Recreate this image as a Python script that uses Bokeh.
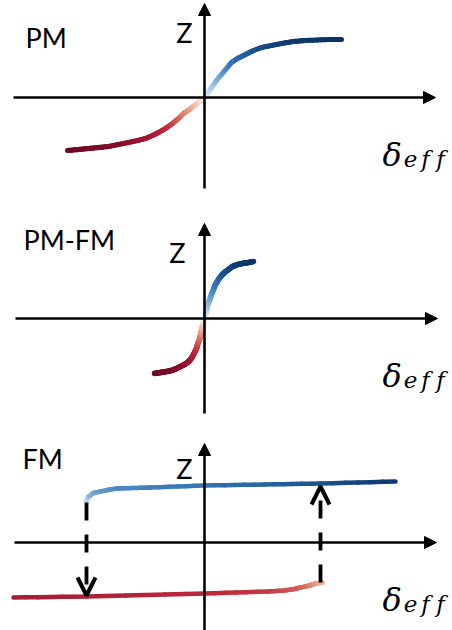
from bokeh.plotting import figure
from bokeh.models import Range1d, Arrow, NormalHead, OpenHead
from bokeh.layouts import column
from bokeh.core.properties import value
from bokeh.embed import file_html
from bokeh.resources import INLINE

# ---------------- data (arbitrary units, origin = axis crossing) ----------------
# PM: smooth, continuous response
pm_delta = [-137, -126, -116, -106, -96, -86, -76, -67, -59, -52, -46, -39, -32, -26, -21, -15, -10, -5, 0,
            3, 7, 12, 17, 22, 27, 33, 41, 49, 57, 67, 77, 89, 101, 124, 137]
pm_z = [-53, -52, -51, -50, -49, -47, -45, -43, -41, -38, -35, -31, -26, -21, -16, -12, -8, -4, 0,
        4, 10, 17, 23, 29, 35, 39, 43, 47, 50, 52, 54, 56, 57, 58, 58]

# PM-FM: steep, continuous response
pmfm_delta = [-50, -44, -38, -33, -28, -24, -20, -17, -14, -12, -10, -8, -7, -5, -4, -3, -2, -1, 0,
              1, 2, 3, 5, 7, 9, 11, 14, 17, 20, 24, 28, 33, 38, 44, 49]
pmfm_z = [-55, -54, -53, -52, -50, -48, -46, -44, -41, -38, -34, -30, -26, -21, -17, -12, -8, -4, 0,
          4, 8, 13, 18, 24, 29, 34, 39, 43, 46, 49, 52, 54, 55, 56, 57]

# FM: hysteresis, two branches
fm_up_delta = [-118, -118, -117, -116, -114, -112, -109, -104, -99, -95, -87, -70, -54, 0, 60, 116, 191]
fm_up_z = [40, 42, 44, 46, 47, 49, 50, 51, 52, 53, 54, 54.5, 55, 57, 58, 59, 61]
fm_lo_delta = [-191, -118, 0, 63, 80, 90, 96, 101, 105, 108, 111, 115, 118]
fm_lo_z = [-55, -54, -51, -49, -48, -46.5, -45, -44, -43, -42, -41, -40.5, -40]
# switching jumps (delta, z_from, z_to)
fm_jump_down = (-118, 40, -53)
fm_jump_up = (116, -40, 56)

panel_labels = ["PM", "PM-FM", "FM"]
y_label = "Z"

# ---------------- styles ----------------
fm_up_shade = [0.05, 0.12, 0.18, 0.24, 0.3, 0.34, 0.38, 0.42, 0.45, 0.47, 0.5, 0.52, 0.55, 0.62, 0.72, 0.82, 0.97]
fm_lo_shade = [-0.7, -0.66, -0.58, -0.5, -0.45, -0.41, -0.38, -0.34, -0.3, -0.27, -0.24, -0.2, -0.17]

STOPS = [(-1.0, "#6e0822"), (-0.8, "#9a1230"), (-0.55, "#bf2a3b"), (-0.3, "#e07a64"),
         (-0.1, "#f6c9b3"), (0.0, "#f8f2f0"), (0.1, "#cfe2f1"), (0.3, "#86b6dc"),
         (0.55, "#3f7fbe"), (0.8, "#1c5594"), (1.0, "#0b3466")]


def hex2rgb(h):
    return tuple(int(h[i:i + 2], 16) for i in (1, 3, 5))


def cmap(t):
    t = max(-1.0, min(1.0, t))
    for (t0, c0), (t1, c1) in zip(STOPS[:-1], STOPS[1:]):
        if t0 <= t <= t1:
            f = 0 if t1 == t0 else (t - t0) / (t1 - t0)
            a, b = hex2rgb(c0), hex2rgb(c1)
            return "#%02x%02x%02x" % tuple(int(round(a[i] + (b[i] - a[i]) * f)) for i in range(3))
    return STOPS[-1][1]


def shade_by_z(z):
    zmax = max(v for v in z if v > 0)
    zmin = -min(v for v in z if v < 0)
    return [v / zmax if v > 0 else (v / zmin if v < 0 else 0.0) for v in z]


def gradient_line(p, xs, ys, shades, width, n_sub=6):
    x0, y0, x1, y1, cols = [], [], [], [], []
    for i in range(len(xs) - 1):
        for k in range(n_sub):
            a, b = k / n_sub, (k + 1) / n_sub
            x0.append(xs[i] + (xs[i + 1] - xs[i]) * a)
            y0.append(ys[i] + (ys[i + 1] - ys[i]) * a)
            x1.append(xs[i] + (xs[i + 1] - xs[i]) * b)
            y1.append(ys[i] + (ys[i + 1] - ys[i]) * b)
            m = (a + b) / 2
            cols.append(cmap(shades[i] + (shades[i + 1] - shades[i]) * m))
    p.segment(x0=x0, y0=y0, x1=x1, y1=y1, line_color=cols, line_width=width, line_cap="round")


# layout per panel
X_RANGE = (-204, 248)
PANELS = [
    dict(h=203, yb=-106, yt=97, xa=(-191, 231), ya=(-91, 94)),
    dict(h=212, yb=-97, yt=115, xa=(-189, 233), ya=(-95, 95)),
    dict(h=215, yb=-88, yt=127, xa=(-190, 232), ya=(-88, 99)),
]
LABEL_POS = [(-179, 60), (-181, 79), (-182, 84)]
Z_POS = [(-12, 65), (-19, 66), (-12, 74)]


def make_panel(i):
    cfg = PANELS[i]
    p = figure(width=452, height=cfg["h"], x_range=Range1d(*X_RANGE),
               y_range=Range1d(cfg["yb"], cfg["yt"]), output_backend="svg",
               toolbar_location=None, x_axis_location=None, y_axis_location=None,
               min_border=0, outline_line_color=None, background_fill_color="white",
               border_fill_color="white")
    p.grid.visible = False
    p.add_layout(Arrow(end=NormalHead(size=12, fill_color="black", line_color="black", line_width=1),
                       x_start=cfg["xa"][0], y_start=0, x_end=cfg["xa"][1], y_end=0,
                       line_width=2.6, line_color="black"))
    p.add_layout(Arrow(end=NormalHead(size=12, fill_color="black", line_color="black", line_width=1),
                       x_start=0, y_start=cfg["ya"][0], x_end=0, y_end=cfg["ya"][1],
                       line_width=2.6, line_color="black"))
    lx, ly = LABEL_POS[i]
    p.text(x=[lx], y=[ly], text=[panel_labels[i]], text_font=value("Lato"),
           text_font_size="27px", text_color="black", text_align="left", text_baseline="alphabetic")
    zx, zy = Z_POS[i]
    p.text(x=[zx], y=[zy], text=[y_label], text_font=value("Lato"),
           text_font_size="27px", text_color="black", text_align="right", text_baseline="alphabetic")
    p.text(x=[178], y=[-57], text=["δ"], text_font=value("DejaVu Serif"), text_font_style="italic",
           text_font_size="32px", text_color="black", text_align="left", text_baseline="alphabetic")
    p.text(x=[206, 221, 236], y=[-61, -61, -61], text=["e", "f", "f"], text_font=value("DejaVu Serif"),
           text_font_style="italic", text_font_size="23px", text_color="black",
           text_align="center", text_baseline="alphabetic")
    return p


p1 = make_panel(0)
gradient_line(p1, pm_delta, pm_z, shade_by_z(pm_z), 5)

p2 = make_panel(1)
gradient_line(p2, pmfm_delta, pmfm_z, shade_by_z(pmfm_z), 5.5)

p3 = make_panel(2)
for (dx, z0, z1) in (fm_jump_down, fm_jump_up):
    p3.add_layout(Arrow(end=OpenHead(size=18, line_width=4, line_color="black"),
                        x_start=dx, y_start=z0, x_end=dx, y_end=z1,
                        line_width=3.8, line_color="black", line_dash="18 14"))
gradient_line(p3, fm_up_delta, fm_up_z, fm_up_shade, 4.5)
gradient_line(p3, fm_lo_delta, fm_lo_z, fm_lo_shade, 4.5)

layout = column(p1, p2, p3, spacing=0)
open("out.html", "w").write(file_html(layout, INLINE))
